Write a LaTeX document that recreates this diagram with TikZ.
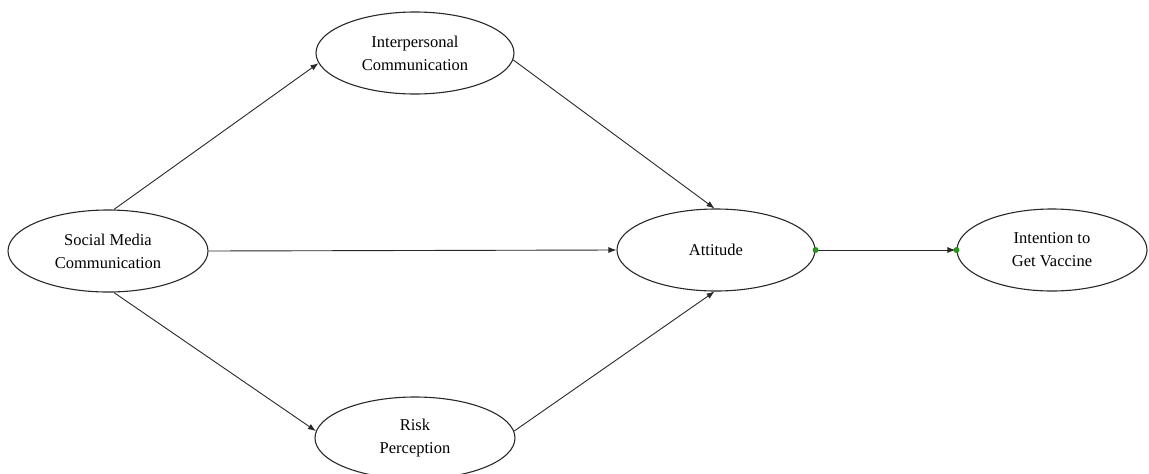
\documentclass[tikz,border=0pt]{standalone}
\usepackage{fontspec}
\setmainfont{Liberation Serif}
\usetikzlibrary{shapes.geometric,arrows.meta}
\definecolor{dotgreen}{RGB}{40,150,30}
\definecolor{linegray}{RGB}{40,40,40}
\tikzset{
  latent/.style={ellipse, draw=linegray, line width=1.1pt, inner sep=0pt,
    minimum width=#1pt, minimum height=82pt, align=center,
    font=\fontsize{16.5}{23}\selectfont},
  latent/.default=200,
  path/.style={draw=linegray, line width=0.9pt, -{Latex[length=8pt,width=6pt]}},
  gdot/.style={circle, fill=dotgreen, inner sep=0pt, minimum size=6pt}
}
\begin{document}
\begin{tikzpicture}[x=1pt,y=-1pt]
\useasboundingbox (0,0) rectangle (1149,474);
\node[latent] (smc) at (108,251) {Social Media\\Communication};
\node[latent=198] (ipc) at (415,53) {Interpersonal\\Communication};
\node[latent=198] (att) at (716,250) {Attitude};
\node[latent=190] (itv) at (1052,250) {Intention to\\Get Vaccine};
\node[latent] (rp) at (415,438) {Risk\\Perception};
\draw[path] (smc.82) -- (ipc.186);
\draw[path] (smc.east) -- (att.west);
\draw[path] (smc.-82) -- (rp.176);
\draw[path] (ipc.-4) -- (att.92);
\draw[path] (rp.4) -- (att.-92);
\draw[path, shorten >=1pt] (att.east) -- (itv.west);
\node[gdot] (d1) at (att.east) {};
\node[gdot] (d2) at (itv.west) {};
\end{tikzpicture}
\end{document}
